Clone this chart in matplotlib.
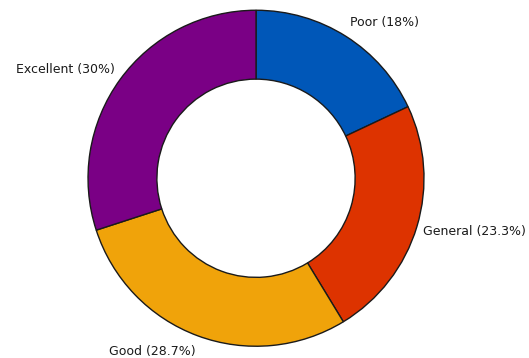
import matplotlib.pyplot as plt

# share of answers per rating
categories = ['Poor', 'General', 'Good', 'Excellent']
shares = [18, 23.3, 28.7, 30]
colors = ['#0057B8', '#DD3300', '#F0A30A', '#7A0085']

labels = ['{} ({:g}%)'.format(c, s) for c, s in zip(categories, shares)]

fig = plt.figure(figsize=(5.29, 3.58), dpi=100)
ax = fig.add_axes([0, 0, 1, 1])

wedges, texts = ax.pie(shares, labels=labels, colors=colors, startangle=90,
                       counterclock=False, labeldistance=1.1, radius=1.0,
                       wedgeprops=dict(width=0.41, edgecolor='#1a1a1a', linewidth=1.0),
                       textprops=dict(fontsize=9, color='#1a1a1a', family='DejaVu Sans'))

# pull the labels a bit closer sideways
for t in texts:
    x, y = t.get_position()
    t.set_position((x * 0.945, y))

# place the ring inside the frame
ax.set_xlim(-1.524, 1.625)
ax.set_ylim(-1.070, 1.061)
ax.set_aspect('auto')
ax.axis('off')

fig.savefig('out.png', dpi=100)
